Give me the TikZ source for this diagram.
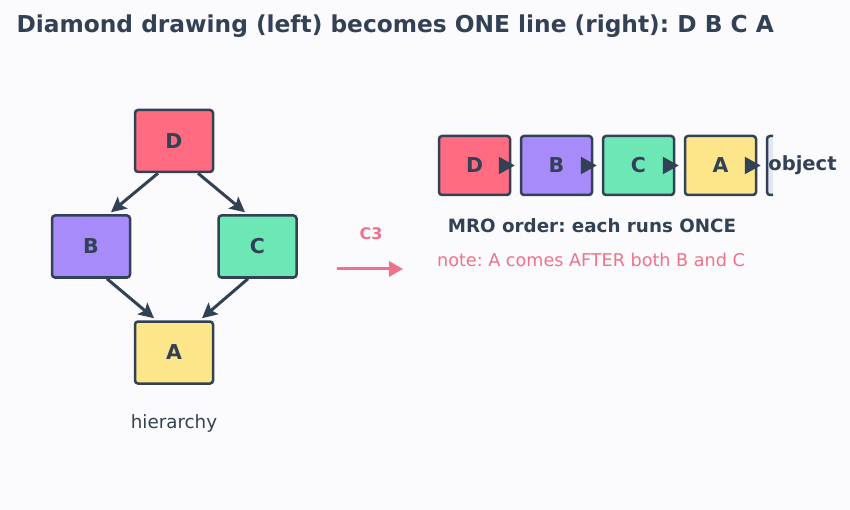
\documentclass[tikz,border=0pt]{standalone}
\usepackage{fontspec}
\setmainfont{DejaVu Sans}
\usetikzlibrary{arrows.meta, positioning}
\definecolor{bgPaper}{HTML}{FBFBFE}
\definecolor{inkDark}{HTML}{334155}
\definecolor{mroPink}{HTML}{F2708A}
\definecolor{boxRed}{HTML}{FF6B81}
\definecolor{boxPurple}{HTML}{A78BFA}
\definecolor{boxGreen}{HTML}{6EE7B7}
\definecolor{boxYellow}{HTML}{FDE68A}
\definecolor{boxGray}{HTML}{E2E8F0}
\frenchspacing

\begin{document}
\begin{tikzpicture}[x=1pt, y=-1pt,
    cls/.style={rectangle, rounded corners=3pt, draw=inkDark, line width=2.5pt,
                fill=#1, minimum width=78pt, minimum height=62pt,
                font=\fontsize{20.5}{22}\selectfont\bfseries\color{inkDark}},
    mro/.style={cls=#1, minimum width=71pt, minimum height=59pt},
    arr/.style={draw=inkDark, line width=3pt,
                -{Stealth[length=15pt, width=15pt, inset=3pt]}},
    rowarr/.style={draw=inkDark, line width=2.5pt,
                -{Triangle[length=16pt, width=17pt]}},
  ]
    \fill[bgPaper] (0,0) rectangle (850,510);
    \useasboundingbox (0,0) rectangle (850,510);

    \node[anchor=west, font=\fontsize{23.3}{26}\selectfont\bfseries\color{inkDark}] (title) at (13,26)
      {Diamond drawing (left) becomes ONE line (right): D B C A};

    % diamond hierarchy
    \node[cls=boxRed] (d) at (174,141) {D};
    \node[cls=boxPurple] (b) at (91,246.5) {B};
    \node[cls=boxGreen] (c) at (257.5,246.5) {C};
    \node[cls=boxYellow] (a) at (174,352.5) {A};
    \node[font=\fontsize{18.3}{20}\selectfont\color{inkDark}] (hier) at (174,423) {hierarchy};

    \draw[arr] ([xshift=-16pt]d.south) -- ([xshift=20pt, yshift=2pt]b.north);
    \draw[arr] ([xshift=24pt]d.south) -- ([xshift=-12.5pt, yshift=2pt]c.north);
    \draw[arr] ([xshift=16pt]b.south) -- ([xshift=-20pt, yshift=2pt]a.north);
    \draw[arr] ([xshift=-9.5pt]c.south) -- ([xshift=28pt, yshift=2pt]a.north);

    % C3 step
    \node[font=\fontsize{16}{18}\selectfont\bfseries\color{mroPink}] (c3) at (371,234) {C3};
    \coordinate (c3from) at (337,269);
    \coordinate (c3to) at (403,269);
    \draw[draw=mroPink, line width=3pt, -{Triangle[length=14pt, width=15pt]}] (c3from) -- (c3to);

    % linear MRO
    \node[mro=boxRed] (d2) at (474.5,165.5) {D};
    \node[mro=boxPurple] (b2) at (556.5,165.5) {B};
    \node[mro=boxGreen] (c2) at (638.5,165.5) {C};
    \node[mro=boxYellow] (a2) at (720.5,165.5) {A};
    \begin{scope}
      \clip (760,100) rectangle (773,220);
      \node[mro=boxGray] (obj) at (802.5,165.5) {};
    \end{scope}
    \node[font=\fontsize{19.5}{22}\selectfont\bfseries\color{inkDark}] (objtext) at (obj) {object};

    \draw[rowarr] ([xshift=-12pt]d2.east) -- ([xshift=-5pt]b2.west);
    \draw[rowarr] ([xshift=-12pt]b2.east) -- ([xshift=-5pt]c2.west);
    \draw[rowarr] ([xshift=-12pt]c2.east) -- ([xshift=-5pt]a2.west);
    \draw[rowarr] ([xshift=-12pt]a2.east) -- ([xshift=-5pt]obj.west);

    \node[font=\fontsize{18.3}{20}\selectfont\bfseries\color{inkDark}] (order) at (592,226)
      {MRO order: each runs ONCE};
    \node[font=\fontsize{17.6}{20}\selectfont\color{mroPink}] (note) at (591,260)
      {note: A comes AFTER both B and C};
\end{tikzpicture}
\end{document}
